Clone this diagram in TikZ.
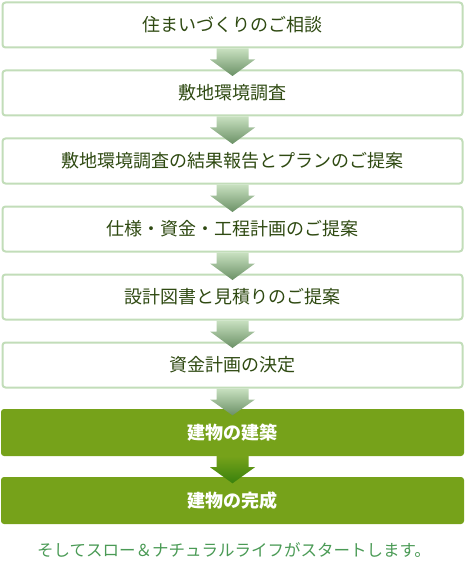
\documentclass[tikz,border=0pt]{standalone}
\usepackage{fontspec}
\newfontfamily\jp{Noto Sans CJK JP}
\usetikzlibrary{calc}
\definecolor{lineGreen}{HTML}{C2DDB9}
\definecolor{textGreen}{HTML}{2F4A12}
\definecolor{boxGreen}{HTML}{76A21A}
\definecolor{noteGreen}{HTML}{4A9A55}
\tikzset{stepbox/.style = {draw=lineGreen, fill=white, line width=2pt, rounded corners=3pt, minimum width=460pt, minimum height=45pt, text=textGreen, text height=13pt, text depth=0pt, font=\jp\fontsize{18}{18}\selectfont},
         donebox/.style = {fill=boxGreen, rounded corners=3pt, minimum width=463pt, minimum height=47pt, text=white, text height=13pt, text depth=0pt, font=\jp\bfseries\fontsize{18}{18}\selectfont},
         lightarrow/.style = {top color=lineGreen!90!white, bottom color=green!20!black!45!lineGreen},
         darkarrow/.style = {top color=boxGreen, bottom color=boxGreen!60!black!80!green}}
% block arrow from the bottom of one box into the top of the next
\newcommand{\flowarrow}[3]{\shade[#3] ($(#1.south)+(-16,0)$) -- ($(#1.south)+(-16,11)$) -- ($(#1.south)+(-22.5,11)$)
  -- ($(#2.north)+(0,6.5)$) -- ($(#1.south)+(22.5,11)$) -- ($(#1.south)+(16,11)$) -- ($(#1.south)+(16,0)$) -- cycle;}

\begin{document}
\begin{tikzpicture}[x=1pt,y=-1pt]
        \useasboundingbox (0,0) rectangle (465,564);
        \node[stepbox](s1)at(232.5,25){住まいづくりのご相談};
        \node[stepbox](s2)at(232.5,93){敷地環境調査};
        \node[stepbox](s3)at(232.5,161){敷地環境調査の結果報告とプランのご提案};
        \node[stepbox](s4)at(232.5,229){仕様・資金・工程計画のご提案};
        \node[stepbox](s5)at(232.5,297){設計図書と見積りのご提案};
        \node[stepbox](s6)at(232.5,365){資金計画の決定};
        \node[donebox](s7)at(232.5,432.5){建物の建築};
        \node[donebox](s8)at(232.5,500.5){建物の完成};
        \foreach \a/\b in {s1/s2,s2/s3,s3/s4,s4/s5,s5/s6,s6/s7}
          \flowarrow{\a}{\b}{lightarrow};
        \flowarrow{s7}{s8}{darkarrow};
        \node[text=noteGreen, text height=12.4pt, text depth=0pt, font=\jp\fontsize{16.5}{16.5}\selectfont](note)at(234,550){そしてスロー＆ナチュラルライフがスタートします。};
    \end{tikzpicture}
\end{document}
